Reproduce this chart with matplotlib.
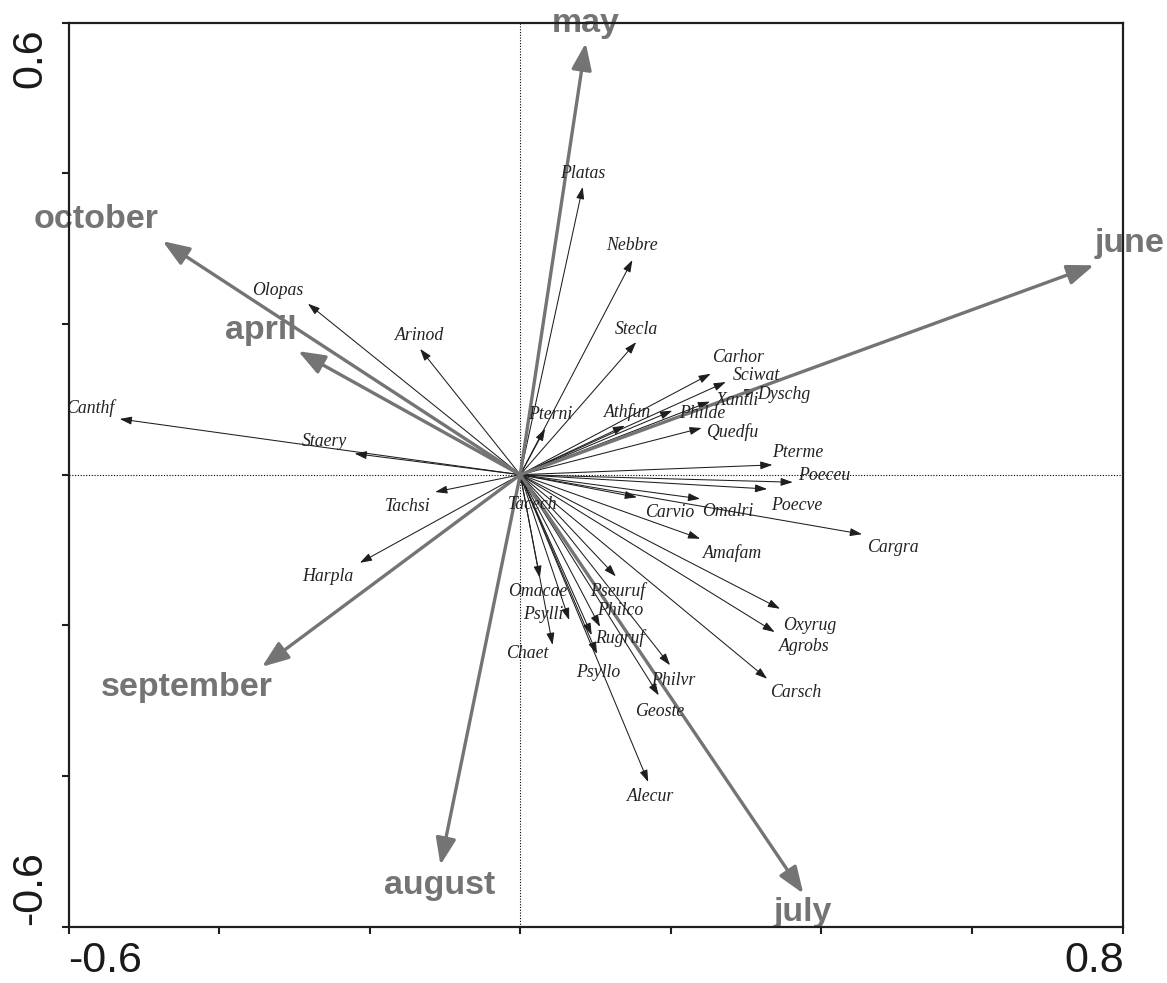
import matplotlib
matplotlib.use("Agg")
import matplotlib.pyplot as plt

# environmental vectors (months), biplot scores on axes 1 and 2
months = ["may", "june", "july", "august", "september", "october", "april"]
month_x = [0.087, 0.762, 0.376, -0.106, -0.343, -0.475, -0.295]
month_y = [0.573, 0.278, -0.556, -0.518, -0.255, 0.310, 0.164]

# species vectors
species = ["Platas", "Nebbre", "Stecla", "Pterni", "Athfun", "Carhor", "Sciwat",
           "Xantli", "Dyschg", "Philde", "Quedfu", "Pterme", "Poeceu", "Poecve",
           "Omalri", "Carvio", "Cargra", "Amafam", "Oxyrug", "Agrobs", "Carsch",
           "Pseuruf", "Philco", "Rugruf", "Psyllo", "Philvr", "Geoste", "Alecur",
           "Omacae", "Psylli", "Chaet", "Tacech", "Tachsi", "Harpla", "Staery",
           "Canthf", "Olopas", "Arinod"]
species_x = [0.083, 0.149, 0.154, 0.033, 0.139, 0.253, 0.273,
             0.252, 0.314, 0.202, 0.241, 0.335, 0.362, 0.328,
             0.239, 0.155, 0.454, 0.239, 0.345, 0.338, 0.328,
             0.127, 0.106, 0.095, 0.102, 0.199, 0.184, 0.170,
             0.026, 0.065, 0.043, 0.010, -0.113, -0.213, -0.220,
             -0.532, -0.282, -0.133]
species_y = [0.382, 0.285, 0.176, 0.061, 0.065, 0.134, 0.123,
             0.097, 0.114, 0.085, 0.062, 0.013, -0.010, -0.019,
             -0.032, -0.030, -0.079, -0.085, -0.178, -0.209, -0.271,
             -0.135, -0.202, -0.213, -0.238, -0.253, -0.293, -0.408,
             -0.137, -0.193, -0.226, -0.020, -0.023, -0.117, 0.028,
             0.074, 0.227, 0.167]

# label placement relative to arrow tips, in pixels
month_offsets = {"may": (0, 20), "june": (36, 22), "july": (-1, -19),
                 "august": (-1, -21), "september": (-75, -21),
                 "october": (-66, 22), "april": (-37, 21)}
species_offsets = {"Platas": (0, 13), "Nebbre": (0, 14), "Stecla": (0, 13),
                   "Pterni": (5, 14), "Athfun": (3, 14), "Carhor": (27, 16),
                   "Sciwat": (31, 7), "Xantli": (27, 1), "Dyschg": (27, -6),
                   "Philde": (30, -3), "Quedfu": (30, -4), "Pterme": (25, 12),
                   "Poeceu": (31, 7), "Poecve": (30, -16), "Omalri": (28, -13),
                   "Carvio": (33, -15), "Cargra": (31, -13), "Amafam": (32, -14),
                   "Oxyrug": (30, -17), "Agrobs": (30, -14), "Carsch": (28, -14),
                   "Pseuruf": (2, -15), "Philco": (20, 16), "Rugruf": (28, -3),
                   "Psyllo": (1, -19), "Philvr": (3, -15), "Geoste": (1, -16),
                   "Alecur": (2, -14), "Omacae": (-2, -14), "Psylli": (-26, 6),
                   "Chaet": (-25, -9), "Tacech": (5, -15), "Tachsi": (-28, -14),
                   "Harpla": (-32, -14), "Staery": (-30, 12), "Canthf": (-30, 11),
                   "Olopas": (-30, 13), "Arinod": (-1, 13)}

grey = "#747474"
ink = "#1e1e1e"

fig = plt.figure(figsize=(11.67, 9.83), dpi=100)
ax = fig.add_axes([0.0587, 0.0573, 0.9032, 0.9196])
ax.set_xlim(-0.6, 0.8)
ax.set_ylim(-0.6, 0.6)

ax.axhline(0, color="black", lw=0.8, ls=(0, (1, 1.5)), zorder=1)
ax.axvline(0, color="black", lw=0.8, ls=(0, (1, 1.5)), zorder=1)

for name, x, y in zip(species, species_x, species_y):
    ax.annotate("", xy=(x, y), xytext=(0, 0),
                arrowprops=dict(arrowstyle="-|>,head_length=0.9,head_width=0.3",
                                mutation_scale=8, color=ink, lw=0.75,
                                shrinkA=0, shrinkB=0), zorder=3)
    ax.annotate(name, xy=(x, y), xytext=species_offsets[name],
                textcoords="offset pixels", ha="center", va="center",
                fontsize=12.8, family="Liberation Serif", style="italic",
                color="#222222", zorder=4)

for name, x, y in zip(months, month_x, month_y):
    ax.annotate("", xy=(x, y), xytext=(0, 0),
                arrowprops=dict(arrowstyle="-|>,head_length=0.9,head_width=0.34",
                                mutation_scale=18, color=grey, lw=2.4,
                                shrinkA=0, shrinkB=0), zorder=3.5)
    ax.annotate(name, xy=(x, y), xytext=month_offsets[name],
                textcoords="offset pixels", ha="center", va="center",
                fontsize=24.5, family="Liberation Sans", fontweight="bold",
                color=grey, zorder=2, annotation_clip=False)

ax.set_xticks([-0.6, -0.4, -0.2, 0.0, 0.2, 0.4, 0.6, 0.8])
ax.set_yticks([-0.6, -0.4, -0.2, 0.0, 0.2, 0.4, 0.6])
ax.tick_params(direction="out", length=5, width=1.5, color=ink,
               labelbottom=False, labelleft=False)
for side in ["top", "bottom", "left", "right"]:
    ax.spines[side].set_linewidth(1.6)
    ax.spines[side].set_color(ink)
    ax.spines[side].set_zorder(5)

# axis end labels
tick_font = dict(fontsize=31, family="Liberation Sans", color="#1a1a1a")
ax.annotate("-0.6", xy=(-0.6, 0), xycoords=("data", "axes fraction"),
            xytext=(0, -14), textcoords="offset pixels", ha="left", va="top",
            annotation_clip=False, **tick_font)
ax.annotate("0.8", xy=(0.8, 0), xycoords=("data", "axes fraction"),
            xytext=(2, -14), textcoords="offset pixels", ha="right", va="top",
            annotation_clip=False, **tick_font)
ax.annotate("0.6", xy=(0, 0.6), xycoords=("axes fraction", "data"),
            xytext=(-18, -6), textcoords="offset pixels", ha="right", va="top",
            rotation=90, annotation_clip=False, **tick_font)
ax.annotate("-0.6", xy=(0, -0.6), xycoords=("axes fraction", "data"),
            xytext=(-18, 2), textcoords="offset pixels", ha="right", va="bottom",
            rotation=90, annotation_clip=False, **tick_font)

fig.savefig("out.png", dpi=100, facecolor="white")
